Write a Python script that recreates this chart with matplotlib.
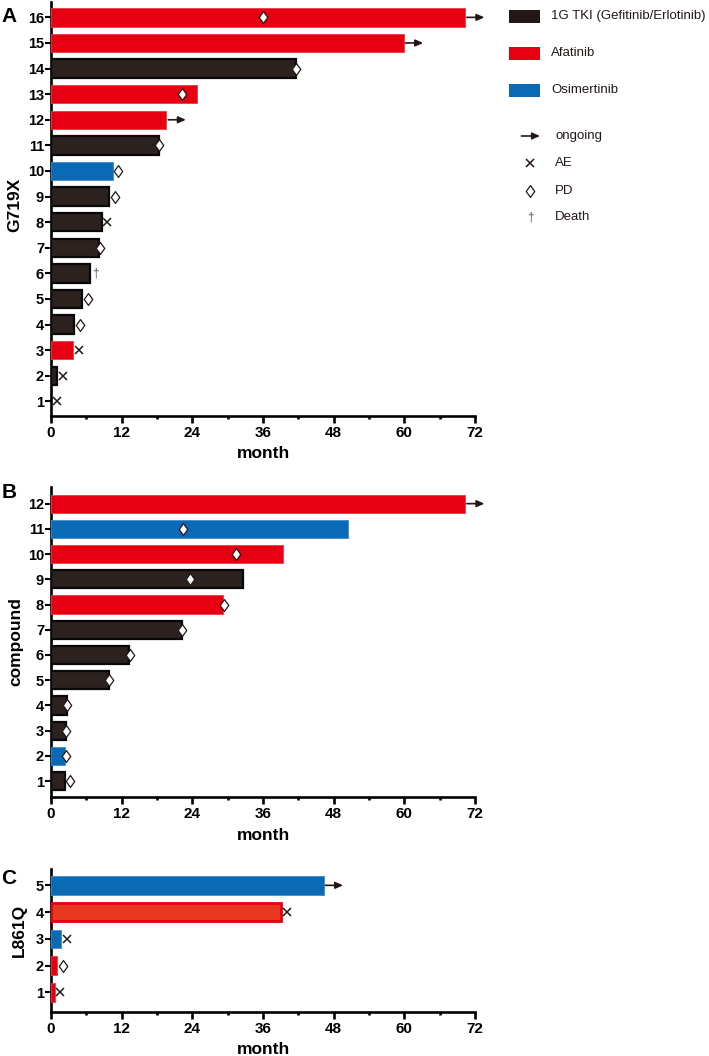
import matplotlib
matplotlib.use('Agg')
import matplotlib.pyplot as plt
from matplotlib.path import Path
from matplotlib.patches import Rectangle
import numpy as np

plt.rcParams['font.family'] = ['Liberation Sans', 'DejaVu Sans']

TXT = '#231815'

# ---------------- data ----------------
# Panel A: G719X
a_rows = list(range(1, 17))
a_months = [0, 1.1, 3.8, 3.9, 5.3, 6.7, 8.2, 8.6, 9.8, 10.5, 18.3, 19.6, 24.8, 41.6, 59.9, 70.3]
a_drug = ['1G', '1G', 'AFA', '1G', '1G', '1G', '1G', '1G', '1G', 'OSI', '1G', 'AFA', 'AFA', '1G', 'AFA', 'AFA']
a_event = ['AE', 'AE', 'AE', 'PD', 'PD', 'Death', 'PD', 'AE', 'PD', 'PD', 'PD', None, 'PD', 'PD', None, 'PD']
a_event_month = [1.1, 2.1, 4.7, 4.9, 6.2, 7.5, 8.3, 9.5, 10.8, 11.4, 18.4, None, 22.3, 41.6, None, 36.0]
a_ongoing = [12, 15, 16]

# Panel B: compound
b_rows = list(range(1, 13))
b_months = [2.3, 2.4, 2.6, 2.8, 9.8, 13.3, 22.3, 29.2, 32.6, 39.4, 50.5, 70.3]
b_drug = ['1G', 'OSI', '1G', '1G', '1G', '1G', '1G', 'AFA', '1G', 'AFA', 'OSI', 'AFA']
b_event = ['PD', 'PD', 'PD', 'PD', 'PD', 'PD', 'PD', 'PD', 'PD', 'PD', 'PD', None]
b_event_month = [3.3, 2.5, 2.6, 2.8, 9.8, 13.4, 22.3, 29.3, 23.6, 31.5, 22.5, None]
b_ongoing = [12]

# Panel C: L861Q
c_rows = list(range(1, 6))
c_months = [0.6, 1.0, 1.75, 39.1, 46.3]
c_drug = ['AFA', 'AFA', 'OSI', 'AFA2', 'OSI']
c_event = ['AE', 'PD', 'AE', 'AE', None]
c_event_month = [1.5, 2.0, 2.8, 40.0, None]
c_ongoing = [5]

x_ticks = [0, 12, 24, 36, 48, 60, 72]

legend_drugs = ['1G TKI (Gefitinib/Erlotinib)', 'Afatinib', 'Osimertinib']
legend_events = ['ongoing', 'AE', 'PD', 'Death']

# ---------------- styles ----------------
BAR_STYLE = {
    '1G': dict(color='#2b211e', edgecolor='#080808', linewidth=1.6),
    'AFA': dict(color='#E60012', edgecolor='#ec3a45', linewidth=0.6),
    'OSI': dict(color='#0a6ab6', edgecolor='#3d8ccb', linewidth=0.6),
    'AFA2': dict(color='#E8381F', edgecolor='#E60012', linewidth=2.0),
}
LEG_COLORS = ['#231815', '#E60012', '#0a6ab6']

diamond = Path([(0, 1), (0.72, 0), (0, -1), (-0.72, 0), (0, 1)],
               [Path.MOVETO, Path.LINETO, Path.LINETO, Path.LINETO, Path.CLOSEPOLY])

W, H = 709, 1056
fig = plt.figure(figsize=(W / 100, H / 100), dpi=100)


def px_axes(left, top, right, bottom):
    return fig.add_axes([left / W, 1 - bottom / H, (right - left) / W, (bottom - top) / H])


def draw_event(ax, ev, x, y):
    if ev == 'PD':
        ax.plot(x, y, marker=diamond, markersize=8.5, markerfacecolor='white',
                markeredgecolor=TXT, markeredgewidth=0.9, linestyle='none', zorder=5, clip_on=False)
    elif ev == 'AE':
        ax.plot(x, y, marker='x', markersize=6, color=TXT, markeredgewidth=1.1,
                linestyle='none', zorder=5, clip_on=False)
    elif ev == 'Death':
        ax.text(x, y, '\u2020', fontsize=8.5, color='#555555', ha='center', va='center', zorder=5)


def draw_arrow(ax, x0, y, length=3.0):
    ax.annotate('', xy=(x0 + 0.3 + length, y), xytext=(x0 + 0.3, y),
                arrowprops=dict(arrowstyle='-|>,head_length=0.45,head_width=0.2',
                                color=TXT, lw=1.2, shrinkA=0, shrinkB=0),
                annotation_clip=False)


def draw_panel(ax, rows, months, drugs, events, ev_months, ongoing, height, ylim,
               ylabel, ylab_xy, xlab_off):
    for r, m, d in zip(rows, months, drugs):
        if m > 0:
            ax.barh(r, m, height=height, zorder=3, **BAR_STYLE[d])
    for r, e, em in zip(rows, events, ev_months):
        if e is not None:
            draw_event(ax, e, em, r)
    for r in ongoing:
        draw_arrow(ax, months[rows.index(r)], r)
    ax.set_xlim(0, 72)
    ax.set_ylim(*ylim)
    ax.set_xticks(x_ticks)
    ax.set_xticks(np.arange(6, 72, 12), minor=True)
    ax.set_yticks(rows)
    ax.set_yticklabels([str(r) for r in rows])
    for s in ['top', 'right']:
        ax.spines[s].set_visible(False)
    for s in ['left', 'bottom']:
        ax.spines[s].set_linewidth(1.9)
        ax.spines[s].set_color('black')
    ax.tick_params(axis='x', which='major', length=5, width=1.9, labelsize=11, pad=2.5)
    ax.tick_params(axis='x', which='minor', length=2.5, width=1.9)
    ax.tick_params(axis='y', length=4, width=1.5, labelsize=10.5, pad=1)
    for lab in ax.get_xticklabels() + ax.get_yticklabels():
        lab.set_fontweight('bold')
    ax.set_ylabel(ylabel, fontsize=12.5, fontweight='bold', va='center')
    ax.yaxis.set_label_coords(*ylab_xy)
    ax.set_xlabel('month', fontsize=12.5, fontweight='bold', va='center')
    ax.xaxis.set_label_coords(0.5, xlab_off)


axA = px_axes(51, 2, 475, 416)
draw_panel(axA, a_rows, a_months, a_drug, a_event, a_event_month, a_ongoing, 0.72,
           (0.43, 16.6), 'G719X', (-0.085, 0.51), -38 / 414)

axB = px_axes(51, 487, 475, 797)
draw_panel(axB, b_rows, b_months, b_drug, b_event, b_event_month, b_ongoing, 0.72,
           (0.37, 12.66), 'compound', (-0.083, 0.5), -38 / 310)

axC = px_axes(51, 869, 475, 1012)
draw_panel(axC, c_rows, c_months, c_drug, c_event, c_event_month, c_ongoing, 0.69,
           (0.27, 5.61), 'L861Q', (-0.075, 0.57), -38 / 143)

# panel letters
for letter, ypx in [('A', 17), ('B', 493), ('C', 878)]:
    fig.text(9 / W, 1 - ypx / H, letter, fontsize=15, fontweight='bold',
             ha='center', va='center', color='black')

# ---------------- legend (overlay in pixel coordinates) ----------------
lg = fig.add_axes([0, 0, 1, 1], zorder=10)
lg.set_xlim(0, W)
lg.set_ylim(H, 0)
lg.axis('off')

for i, (lab, col) in enumerate(zip(legend_drugs, LEG_COLORS)):
    yc = 16 + i * 37
    lg.add_patch(Rectangle((509, yc - 6.5), 31, 13, facecolor=col, edgecolor='none'))
    lg.text(551, yc, lab, fontsize=9.5, color=TXT, ha='left', va='center')

sym_y = [136, 163, 190.5, 217.5]
for lab, yc in zip(legend_events, sym_y):
    lg.text(555, yc, lab, fontsize=9.5, color=TXT, ha='left', va='center')
    if lab == 'ongoing':
        lg.annotate('', xy=(540, yc), xytext=(521.5, yc),
                    arrowprops=dict(arrowstyle='-|>,head_length=0.45,head_width=0.2',
                                    color=TXT, lw=1.2, shrinkA=0, shrinkB=0))
    elif lab == 'AE':
        lg.plot(530, yc, marker='x', markersize=6, color=TXT, markeredgewidth=1.1)
    elif lab == 'PD':
        lg.plot(530, yc, marker=diamond, markersize=8.5, markerfacecolor='white',
                markeredgecolor=TXT, markeredgewidth=0.9)
    else:
        lg.text(530, yc, '\u2020', fontsize=8.5, color='#555555', ha='center', va='center')

fig.savefig('out.png', dpi=100)
